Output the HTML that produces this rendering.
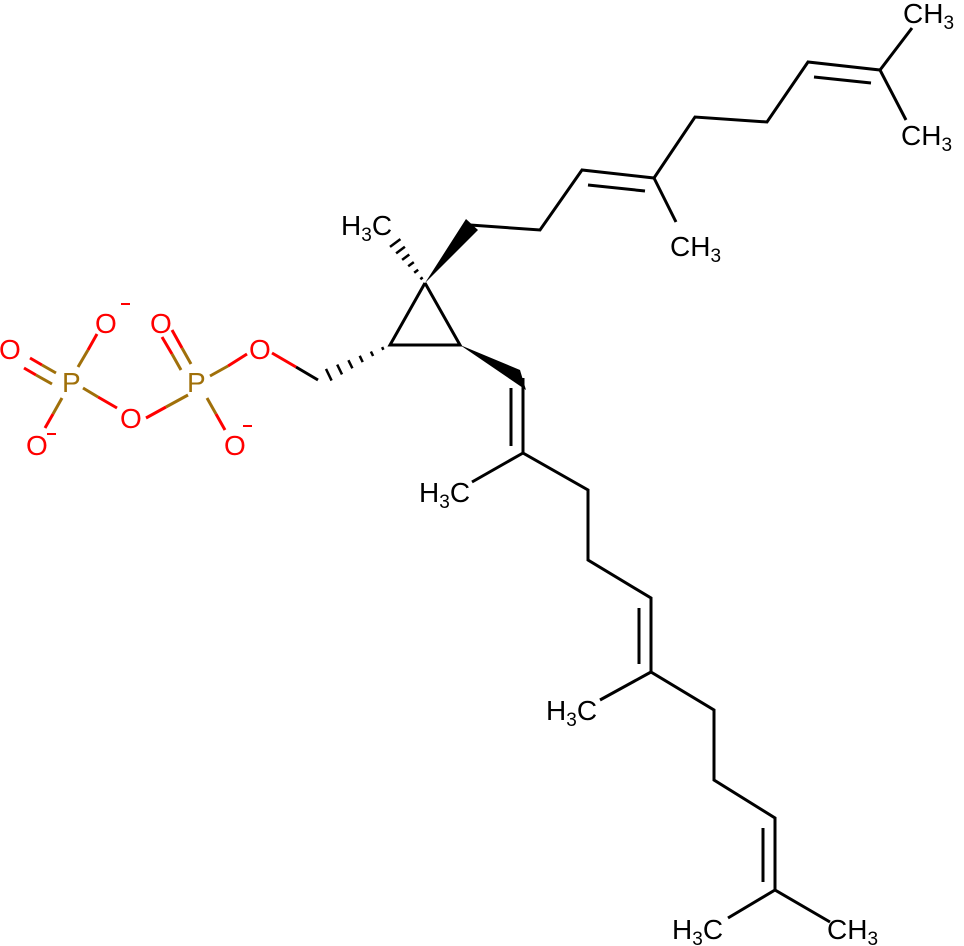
<!DOCTYPE html>
<html><head><meta charset="utf-8"><style>
html,body{margin:0;padding:0;background:#fff;width:964px;height:946px;overflow:hidden}
</style></head><body>
<svg width="964" height="946" viewBox="0 0 964 946" xmlns="http://www.w3.org/2000/svg" font-family="Liberation Sans, Arial, sans-serif" font-size="28">
<g stroke="#000" stroke-width="3" fill="none" stroke-linecap="butt">
<polyline points="425,283 390,345 460,345 425,283"/>
<polyline points="470,225 540,230 582,170 654,178 695,117 767,122 808,62 880,70 912,28"/>
<line x1="880" y1="70" x2="906" y2="120"/>
<line x1="588" y1="185" x2="645" y2="191"/>
<line x1="814" y1="77" x2="871" y2="83"/>
<line x1="654" y1="178" x2="676" y2="222"/>
<polyline points="523,378 523,453 588,490 588,560 651,598 651,672 714,710 714,780 775,818 775,890 830,922"/>
<line x1="511" y1="388" x2="511" y2="446"/>
<line x1="639" y1="608" x2="639" y2="664"/>
<line x1="763" y1="828" x2="763" y2="882"/>
<line x1="523" y1="453" x2="472" y2="482"/>
<line x1="651" y1="672" x2="600" y2="700"/>
<line x1="775" y1="890" x2="728" y2="918"/>
<g stroke-width="2.5">
<line x1="420.3" y1="279.2" x2="422.7" y2="277.4"/>
<line x1="414.2" y1="272.7" x2="418.2" y2="269.7"/>
<line x1="408.2" y1="266.3" x2="413.8" y2="262.1"/>
<line x1="402.1" y1="259.9" x2="409.3" y2="254.5"/>
<line x1="396.1" y1="253.4" x2="404.9" y2="246.8"/>
<line x1="390" y1="246.9" x2="400.4" y2="239.1"/>
</g>
<g stroke-width="2.5">
<line x1="382.1" y1="347.1" x2="383.4" y2="349.8"/>
<line x1="370.9" y1="351.5" x2="373.1" y2="356"/>
<line x1="359.7" y1="355.8" x2="362.7" y2="362.1"/>
<line x1="348.4" y1="360.2" x2="352.4" y2="368.3"/>
<line x1="337.2" y1="364.6" x2="342" y2="374.4"/>
<line x1="326" y1="368.9" x2="331.6" y2="380.6"/>
</g>
<line x1="318" y1="380" x2="296" y2="367"/>
<line x1="296" y1="367" x2="272" y2="353" stroke="#f00"/>
</g>
<polygon points="425,283 466,219 478,230" fill="#000"/>
<polygon points="460,345 520,370 526,390" fill="#000"/>
<g stroke-width="3">
<line x1="247" y1="354" x2="228" y2="366" stroke="#f00"/>
<line x1="228" y1="366" x2="210" y2="376" stroke="#a0700a"/>
<line x1="172" y1="330" x2="182" y2="348" stroke="#f00"/>
<line x1="182" y1="348" x2="191" y2="364" stroke="#a0700a"/>
<line x1="162" y1="337" x2="172" y2="354" stroke="#f00"/>
<line x1="172" y1="354" x2="181" y2="370" stroke="#a0700a"/>
<line x1="207" y1="398" x2="216" y2="414" stroke="#a0700a"/>
<line x1="216" y1="414" x2="225" y2="430" stroke="#f00"/>
<line x1="188" y1="395" x2="166" y2="407" stroke="#a0700a"/>
<line x1="166" y1="407" x2="146" y2="418" stroke="#f00"/>
<line x1="117" y1="408" x2="98" y2="397" stroke="#f00"/>
<line x1="98" y1="397" x2="83" y2="388" stroke="#a0700a"/>
<line x1="30" y1="358" x2="42" y2="365" stroke="#f00"/>
<line x1="42" y1="365" x2="56" y2="373" stroke="#a0700a"/>
<line x1="24" y1="368" x2="36" y2="375" stroke="#f00"/>
<line x1="36" y1="375" x2="52" y2="384" stroke="#a0700a"/>
<line x1="97" y1="334" x2="88" y2="350" stroke="#f00"/>
<line x1="88" y1="350" x2="78" y2="367" stroke="#a0700a"/>
<line x1="62" y1="398" x2="53" y2="414" stroke="#a0700a"/>
<line x1="53" y1="414" x2="45" y2="428" stroke="#f00"/>
</g>
<g fill="#f00">
<text x="249" y="359">O</text>
<text x="150" y="333">O</text>
<text x="120" y="428">O</text>
<text x="-1" y="359">O</text>
<text x="95" y="333">O</text>
<text x="224" y="455">O</text>
<text x="26" y="455">O</text>
<rect x="121" y="303" width="9" height="2"/>
<rect x="243" y="425" width="9" height="2"/>
<rect x="47" y="433" width="9" height="2"/>
</g>
<g fill="#a0700a">
<text x="187" y="392">P</text>
<text x="62" y="392">P</text>
</g>
<g fill="#000">
<text x="341" y="235">H<tspan font-size="19" dy="6">3</tspan><tspan dy="-6">C</tspan></text>
<text x="670" y="256">CH<tspan font-size="19" dy="6">3</tspan></text>
<text x="903" y="23">CH<tspan font-size="19" dy="6">3</tspan></text>
<text x="901" y="145">CH<tspan font-size="19" dy="6">3</tspan></text>
<text x="419" y="502">H<tspan font-size="19" dy="6">3</tspan><tspan dy="-6">C</tspan></text>
<text x="546" y="720">H<tspan font-size="19" dy="6">3</tspan><tspan dy="-6">C</tspan></text>
<text x="672" y="939">H<tspan font-size="19" dy="6">3</tspan><tspan dy="-6">C</tspan></text>
<text x="827" y="939">CH<tspan font-size="19" dy="6">3</tspan></text>
</g>
</svg>
</body></html>
